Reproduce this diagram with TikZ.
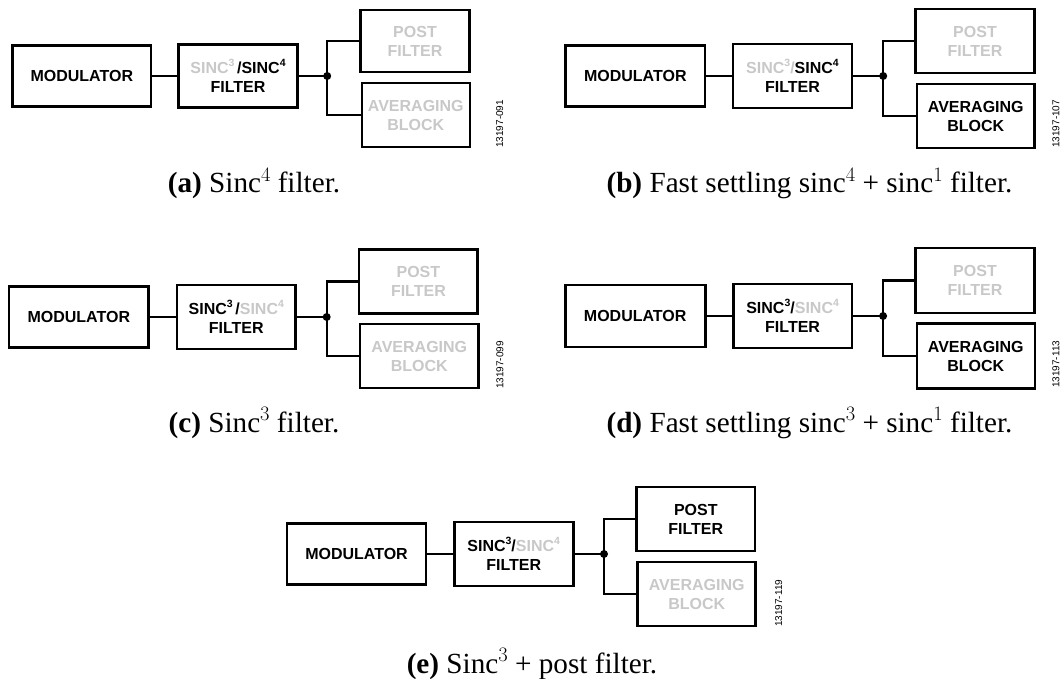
\documentclass[tikz,border=0pt]{standalone}
\usepackage{fontspec}
\newfontfamily\boxfam{Liberation Sans}
\newfontfamily\capfam{Liberation Serif}
\definecolor{lgray}{RGB}{200,200,200}
\newcommand\bsup[1]{\raisebox{0.42em}{\fontsize{10.5}{10.5}\selectfont #1}}
\newcommand\csup[1]{\raisebox{0.40em}{\rmfamily\fontsize{20.5}{20.5}\selectfont #1}}
\tikzset{
  blk/.style={draw, line width=2.6pt, inner sep=0pt, align=center,
    font=\boxfam\bfseries\fontsize{16}{19}\selectfont},
  wire/.style={line width=2.2pt},
  fid/.style={font=\boxfam\fontsize{10}{12}\selectfont, rotate=90, anchor=west, inner sep=0pt},
  capt/.style={font=\capfam\fontsize{29.2}{31}\selectfont, anchor=base, inner sep=0pt},
  jdot/.style={fill=black}
}
\begin{document}
\begin{tikzpicture}[x=1pt,y=-1pt]
\useasboundingbox (0,0) rectangle (1060,679);

% ---------- (a)
\node[blk, minimum width=138.6, minimum height=61] (modA) at (81.8,76) {MODULATOR};
\node[blk, minimum width=119, minimum height=63] (filA) at (238,76) {\textcolor{lgray}{SINC\bsup{3}}\,/SINC\bsup{4}\\FILTER};
\coordinate (jA) at (327.2,76);
\node[blk, minimum width=109.5, minimum height=62, text=lgray] (postA) at (415,41) {POST\\FILTER};
\node[blk, minimum width=108, minimum height=64, text=lgray] (avgA) at (415.8,115) {AVERAGING\\BLOCK};
\draw[wire] (modA) -- (filA);
\draw[wire] (filA) -- (jA);
\draw[wire] (jA) |- (postA.west);
\draw[wire] (jA) |- (avgA.west);
\fill[jdot] (jA) circle (4);
\node[fid] (idA) at (499.6,148) {13197-091};
\node[capt] (capA) at (254,193) {\textbf{(a)} Sinc\csup{4} filter.};

% ---------- (b)
\node[blk, minimum width=139.6, minimum height=61] (modB) at (635.3,76) {MODULATOR};
\node[blk, minimum width=119.3, minimum height=64] (filB) at (792.5,76) {\textcolor{lgray}{SINC\bsup{3}/}SINC\bsup{4}\\FILTER};
\coordinate (jB) at (883.2,76);
\node[blk, minimum width=119.3, minimum height=64, text=lgray] (postB) at (975,41) {POST\\FILTER};
\node[blk, minimum width=117.6, minimum height=64] (avgB) at (975.8,116) {AVERAGING\\BLOCK};
\draw[wire] (modB) -- (filB);
\draw[wire] (filB) -- (jB);
\draw[wire] (jB) |- (postB.west);
\draw[wire] (jB) |- (avgB.west);
\fill[jdot] (jB) circle (4);
\node[fid] (idB) at (1056,148) {13197-107};
\node[capt] (capB) at (809.5,193) {\textbf{(b)} Fast settling sinc\csup{4} + sinc\csup{1} filter.};

% ---------- (c)
\node[blk, minimum width=139.7, minimum height=61] (modC) at (78.8,317) {MODULATOR};
\node[blk, minimum width=118.7, minimum height=64] (filC) at (236.3,317) {SINC\bsup{3}\,/\textcolor{lgray}{SINC\bsup{4}}\\FILTER};
\coordinate (jC) at (326.7,317);
\node[blk, minimum width=118.5, minimum height=64, text=lgray] (postC) at (418.4,281.5) {POST\\FILTER};
\node[blk, minimum width=118.5, minimum height=64, text=lgray] (avgC) at (419.3,356) {AVERAGING\\BLOCK};
\draw[wire] (modC) -- (filC);
\draw[wire] (filC) -- (jC);
\draw[wire] (jC) |- (postC.west);
\draw[wire] (jC) |- (avgC.west);
\fill[jdot] (jC) circle (4);
\node[fid] (idC) at (500,389) {13197-099};
\node[capt] (capC) at (254,432) {\textbf{(c)} Sinc\csup{3} filter.};

% ---------- (d)
\node[blk, minimum width=140, minimum height=62] (modD) at (635.2,316) {MODULATOR};
\node[blk, minimum width=118.8, minimum height=64] (filD) at (792.6,316) {SINC\bsup{3}/\textcolor{lgray}{SINC\bsup{4}}\\FILTER};
\coordinate (jD) at (883.1,316);
\node[blk, minimum width=119.3, minimum height=65, text=lgray] (postD) at (975,280.5) {POST\\FILTER};
\node[blk, minimum width=118, minimum height=65] (avgD) at (975.8,356) {AVERAGING\\BLOCK};
\draw[wire] (modD) -- (filD);
\draw[wire] (filD) -- (jD);
\draw[wire] (jD) |- (postD.west);
\draw[wire] (jD) |- (avgD.west);
\fill[jdot] (jD) circle (4);
\node[fid] (idD) at (1056,388) {13197-113};
\node[capt] (capD) at (809.5,432) {\textbf{(d)} Fast settling sinc\csup{3} + sinc\csup{1} filter.};

% ---------- (e)
\node[blk, minimum width=139.3, minimum height=61] (modE) at (356.5,554) {MODULATOR};
\node[blk, minimum width=119, minimum height=64] (filE) at (513.7,554) {SINC\bsup{3}/\textcolor{lgray}{SINC\bsup{4}}\\FILTER};
\coordinate (jE) at (604,554);
\node[blk, minimum width=118.3, minimum height=64] (postE) at (695.8,519) {POST\\FILTER};
\node[blk, minimum width=118, minimum height=64, text=lgray] (avgE) at (696.7,594) {AVERAGING\\BLOCK};
\draw[wire] (modE) -- (filE);
\draw[wire] (filE) -- (jE);
\draw[wire] (jE) |- (postE.west);
\draw[wire] (jE) |- (avgE.west);
\fill[jdot] (jE) circle (4);
\node[fid] (idE) at (778.7,627) {13197-119};
\node[capt] (capE) at (532,673) {\textbf{(e)} Sinc\csup{3} + post filter.};
\end{tikzpicture}
\end{document}
